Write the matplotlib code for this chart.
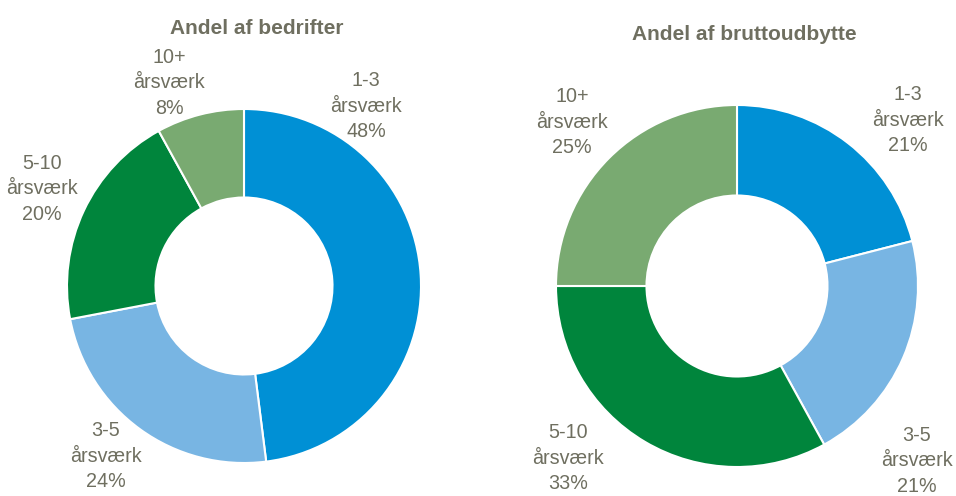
import matplotlib
matplotlib.use("Agg")
import matplotlib.pyplot as plt

categories = ["1-3\nårsværk", "3-5\nårsværk", "5-10\nårsværk", "10+\nårsværk"]
bedrifter = [48, 24, 20, 8]
bruttoudbytte = [21, 21, 33, 25]
titles = ["Andel af bedrifter", "Andel af bruttoudbytte"]
colors = ["#0090D5", "#78B5E3", "#00853C", "#79AA71"]
text_color = "#6F6F60"

plt.rcParams['font.family'] = ['Liberation Sans', 'DejaVu Sans']

W, H = 956, 496
fig = plt.figure(figsize=(W / 100, H / 100), dpi=100)

def add_donut(cx, cy, r, values, title, title_xy, label_xy):
    ax = fig.add_axes([(cx - r) / W, (H - cy - r) / H, 2 * r / W, 2 * r / H])
    ax.pie(values, colors=colors, startangle=90, counterclock=False, radius=1,
           wedgeprops=dict(width=0.5, edgecolor="white", linewidth=1.5))
    ax.set_xlim(-1, 1)
    ax.set_ylim(-1, 1)
    ax.set_aspect("equal")
    ax.axis("off")
    fig.text(title_xy[0] / W, 1 - title_xy[1] / H, title, ha="center", va="center",
             fontsize=15, fontweight="bold", color=text_color)
    for cat, v, (lx, ly) in zip(categories, values, label_xy):
        fig.text(lx / W, 1 - ly / H, f"{cat}\n{v}%", ha="center", va="center",
                 fontsize=14.2, color=text_color, linespacing=1.46)

add_donut(244, 286, 177, bedrifter, titles[0], (257, 28),
          [(366, 106), (106, 456), (42, 189), (169, 83)])
add_donut(737, 286, 181, bruttoudbytte, titles[1], (744, 34),
          [(908, 120), (917, 461), (568, 458), (572, 122)])

fig.savefig("out.png", dpi=100)
